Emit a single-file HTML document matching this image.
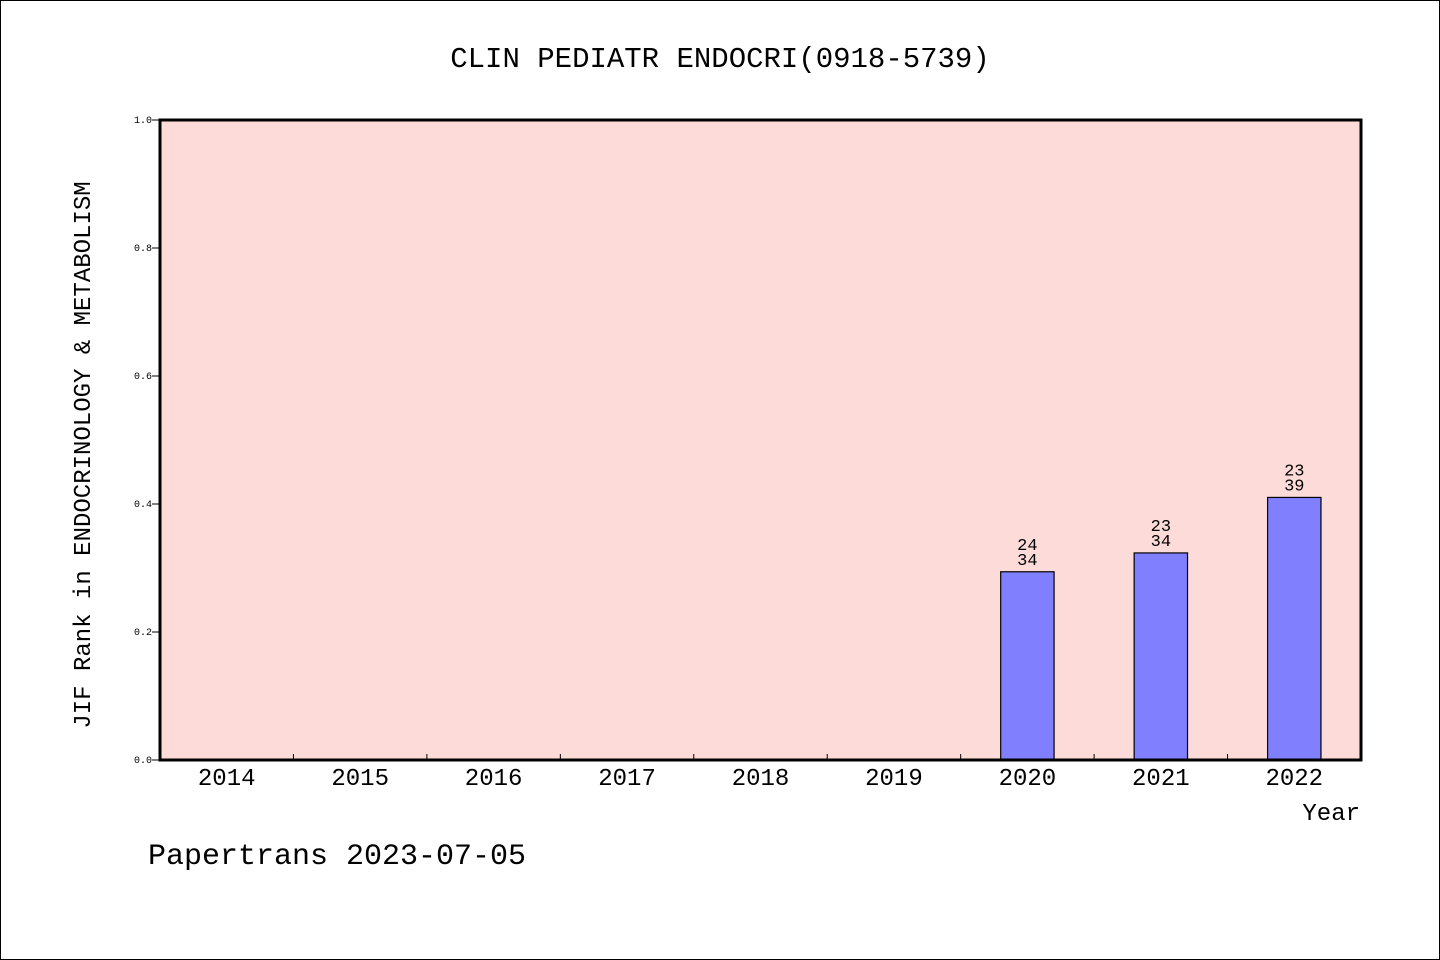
<!DOCTYPE html>
<html><head><meta charset="utf-8"><style>
body{margin:0;background:#fff}
svg{display:block;font-family:"Liberation Mono","DejaVu Sans Mono",monospace}
</style></head><body>
<svg width="1440" height="960">
<rect x="0.5" y="0.5" width="1439" height="959" fill="#fff" stroke="#000"/>
<text x="720" y="67" text-anchor="middle" font-size="29">CLIN PEDIATR ENDOCRI(0918-5739)</text>
<rect x="160" y="120" width="1201" height="640" fill="#fddbd8"/>
<g id="yticks"></g>
<g id="xaxis"></g>
<g id="bars"></g>
<rect x="160" y="120" width="1201" height="640" fill="none" stroke="#000" stroke-width="3"/>
<text transform="translate(90,455) rotate(-90)" text-anchor="middle" font-size="24">JIF Rank in ENDOCRINOLOGY &amp; METABOLISM</text>
<text x="1360" y="820" text-anchor="end" font-size="24">Year</text>
<text x="148" y="864" font-size="30">Papertrans 2023-07-05</text>
</svg>
<script>
const years=["2014","2015","2016","2017","2018","2019","2020","2021","2022"];
const ranks=[null,null,null,null,null,null,24,23,23];
const totals=[null,null,null,null,null,null,34,34,39];
const yTicks=["0.0","0.2","0.4","0.6","0.8","1.0"];
const NS="http://www.w3.org/2000/svg";
const x0=160,x1=1361,y0=760,y1=120;
const band=(x1-x0)/years.length;
const yS=v=>y0-(v)*(y0-y1);
const xC=i=>x0+band*(i+0.5);
function mk(t,a,p){const e=document.createElementNS(NS,t);for(const k in a)e.setAttribute(k,a[k]);p.appendChild(e);return e;}
const yt=document.getElementById('yticks');
yTicks.forEach(t=>{const y=yS(parseFloat(t));
const l=mk('line',{x1:x0-8,x2:x0,y1:y,y2:y,stroke:'#000'},yt);


const tx=mk('text',{x:x0-8,y:y+3,'text-anchor':'end','font-size':10},yt);tx.textContent=t;

});
const xa=document.getElementById('xaxis');
years.forEach((yr,i)=>{
if(i>0){const l=mk('line',{x1:x0+band*i,x2:x0+band*i,y1:y0-6,y2:y0,stroke:'#000'},xa);

}
const t=mk('text',{x:xC(i),y:y0+25,'text-anchor':'middle','font-size':24},xa);t.textContent=yr;

});
const bg=document.getElementById('bars');
years.forEach((yr,i)=>{if(ranks[i]==null)return;
const v=(totals[i]-ranks[i])/totals[i];const w=band*0.4;const top=yS(v);
const r=mk('rect',{x:xC(i)-w/2,y:top,width:w,height:y0-top,fill:'#8080ff',stroke:'#000','stroke-width':1.2},bg);


const a=mk('text',{x:xC(i),y:top-22,'text-anchor':'middle','font-size':17},bg);a.textContent=ranks[i];


const b=mk('text',{x:xC(i),y:top-7,'text-anchor':'middle','font-size':17},bg);b.textContent=totals[i];

});
</script>
</body></html>
